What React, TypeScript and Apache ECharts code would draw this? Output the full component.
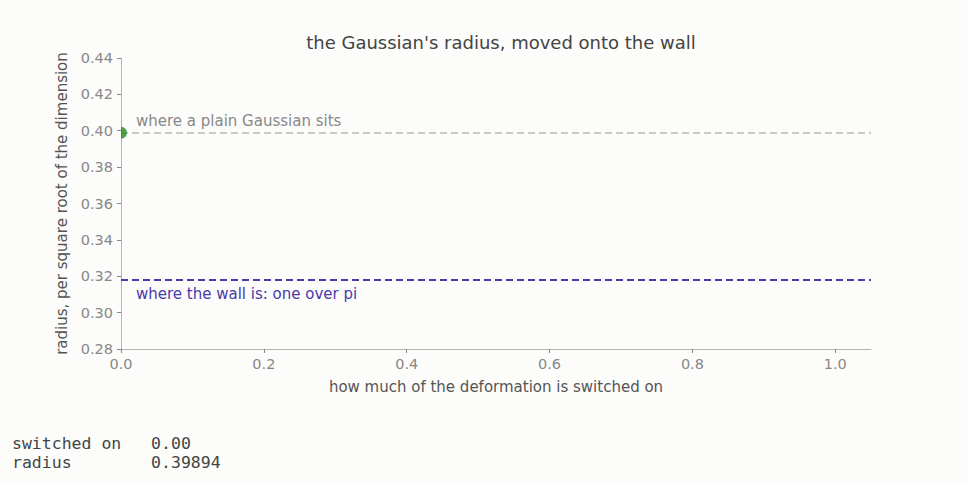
import React, { useEffect, useRef } from 'react';
import * as echarts from 'echarts';

// reference levels, per square root of the dimension
const levelNames = ['where a plain Gaussian sits', 'where the wall is: one over pi'];
const levelValues = [0.39894, 0.31831];
const levelColors = ['#bbbbb5', '#4a3aaa'];

// current state of the slider
const switchedOn = [0.0];
const radius = [0.39894];

const xTicks = [0, 0.2, 0.4, 0.6, 0.8, 1.0];
const yTicks = [0.28, 0.3, 0.32, 0.34, 0.36, 0.38, 0.4, 0.42, 0.44];

const BG = '#fcfcfa';
const FONT = 'DejaVu Sans';

const App: React.FC = () => {
  const chartRef = useRef<HTMLDivElement>(null);

  useEffect(() => {
    document.body.style.margin = '0';
    document.body.style.background = BG;
    if (!chartRef.current) return;
    const chart = echarts.init(chartRef.current, undefined, { renderer: 'svg' });

    const axisCommon = {
      axisLine: { show: true, lineStyle: { color: '#b5b5ae', width: 1 } },
      axisTick: { show: true, length: 4, lineStyle: { color: '#888' } },
      splitLine: { show: false },
      nameTextStyle: { color: '#555', fontSize: 15, fontFamily: FONT },
    };

    const option: any = {
      animation: false,
      backgroundColor: BG,
      textStyle: { fontFamily: FONT },
      title: {
        text: "the Gaussian's radius, moved onto the wall",
        left: 496,
        textAlign: 'center',
        top: 28,
        textStyle: { color: '#444', fontSize: 18, fontWeight: 'normal', fontFamily: FONT },
      },
      grid: { left: 121, right: 97, top: 58, bottom: 135 },
      xAxis: {
        ...axisCommon,
        type: 'value',
        min: 0,
        max: 1.05,
        interval: 0.2,
        name: 'how much of the deformation is switched on',
        nameLocation: 'middle',
        nameGap: 30,
        axisLabel: {
          color: '#888',
          fontSize: 14.5,
          fontFamily: FONT,
          margin: 7,
          showMaxLabel: false,
          formatter: (v: number) => (xTicks.some(t => Math.abs(t - v) < 1e-9) ? v.toFixed(1) : ''),
        },
      },
      yAxis: {
        ...axisCommon,
        type: 'value',
        min: 0.28,
        max: 0.44,
        interval: 0.02,
        name: 'radius, per square root of the dimension',
        nameLocation: 'middle',
        nameGap: 45,
        axisLabel: {
          color: '#888',
          fontSize: 14.5,
          fontFamily: FONT,
          margin: 8,
          formatter: (v: number) => (yTicks.some(t => Math.abs(t - v) < 1e-9) ? v.toFixed(2) : ''),
        },
      },
      series: [
        {
          type: 'line',
          data: [],
          silent: true,
          markLine: {
            symbol: 'none',
            silent: true,
            precision: 5,
            data: levelValues.map((v, i) => ({
              yAxis: v,
              lineStyle: {
                color: levelColors[i],
                type: [7, 4],
                width: i === 0 ? 1.6 : 2,
              },
              label: {
                show: true,
                formatter: levelNames[i],
                position: i === 0 ? 'insideStartTop' : 'insideStartBottom',
                distance: [15, i === 0 ? 4 : 7],
                color: i === 0 ? '#888' : '#4a3aaa',
                fontSize: 15,
                fontFamily: FONT,
              },
            })),
          },
        },
        {
          type: 'scatter',
          data: switchedOn.map((x, i) => [x, radius[i]]),
          symbol: 'path://M0,0 A1,1 0 0 1 0,2 Z',
          symbolSize: [6, 12],
          symbolOffset: [3, 0],
          itemStyle: { color: '#238a23' },
          z: 5,
        },
      ],
    };

    chart.setOption(option);
    return () => chart.dispose();
  }, []);

  const readout =
    'switched on   ' + switchedOn[0].toFixed(2) + '\n' +
    'radius        ' + radius[0].toFixed(5);

  return (
    <div style={{ position: 'relative', width: 968, height: 484, background: BG }}>
      <div ref={chartRef} style={{ position: 'absolute', left: 0, top: 0, width: 968, height: 484 }} />
      <pre
        style={{
          position: 'absolute',
          left: 12,
          top: 434,
          margin: 0,
          fontFamily: '"DejaVu Sans Mono", monospace',
          fontSize: 16.5,
          lineHeight: '19px',
          color: '#444',
        }}
      >
        {readout}
      </pre>
    </div>
  );
};

export default App;
